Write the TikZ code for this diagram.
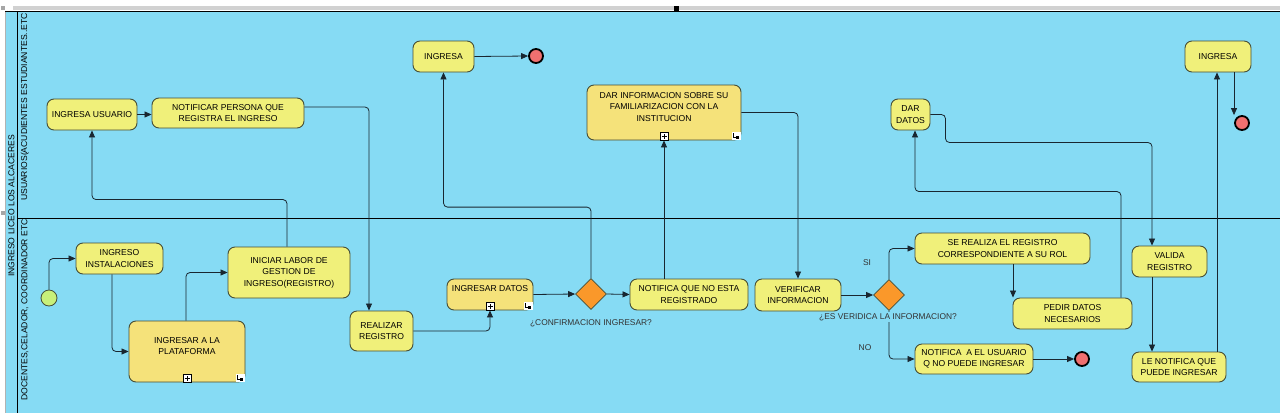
\documentclass[tikz,border=0pt]{standalone}
\usepackage{fontspec}
\setmainfont{Liberation Sans}
\usetikzlibrary{shapes,arrows.meta,positioning,calc}
\definecolor{LaneBlue}{RGB}{134, 219, 244}
\definecolor{TaskYellow}{RGB}{240, 240, 122}
\definecolor{SubYellow}{RGB}{245, 226, 122}
\definecolor{TaskEdge}{RGB}{70, 78, 55}
\definecolor{GateOrange}{RGB}{250, 152, 42}
\definecolor{EndRed}{RGB}{240, 112, 112}
\definecolor{StartGreen}{RGB}{200, 240, 122}
\definecolor{FlowLine}{RGB}{25, 38, 48}

% sub-process marker and corner icon
\newcommand{\submarks}[1]{%
  \draw[fill=white, line width=0.6pt] ([xshift=-4pt]#1.south) rectangle ([xshift=4pt,yshift=8pt]#1.south);
  \draw[line width=0.6pt] ([yshift=1.5pt]#1.south) -- ([yshift=6.5pt]#1.south)
    ([xshift=-2.5pt,yshift=4pt]#1.south) -- ([xshift=2.5pt,yshift=4pt]#1.south);
  \fill[white] ([xshift=-9pt,yshift=0.5pt]#1.south east) rectangle ([xshift=-0.5pt,yshift=8pt]#1.south east);
  \draw[line width=0.5pt] ([xshift=-8pt,yshift=7pt]#1.south east) |- ([xshift=-4pt,yshift=3.5pt]#1.south east);
  \fill ([xshift=-5pt,yshift=1pt]#1.south east) rectangle ([xshift=-2pt,yshift=4pt]#1.south east);
}

\begin{document}
\begin{tikzpicture}[x=1pt, y=-1pt,
  task/.style={draw=TaskEdge, fill=TaskYellow, rounded corners=7pt, line width=0.9pt,
    align=center, inner sep=0pt, font=\fontsize{8.6}{11.5}\selectfont},
  subtask/.style={task, fill=SubYellow},
  gate/.style={diamond, draw=TaskEdge, fill=GateOrange, line width=0.8pt,
    minimum width=31pt, minimum height=31pt, inner sep=0pt},
  endev/.style={circle, draw=black, fill=EndRed, line width=1.8pt, minimum size=14pt, inner sep=0pt},
  startev/.style={circle, draw=TaskEdge, fill=StartGreen, line width=0.8pt, minimum size=16pt, inner sep=0pt},
  flow/.style={draw=FlowLine, line width=0.8pt, rounded corners=4pt, -{Triangle[length=7pt,width=6pt]}},
  gatelabel/.style={font=\fontsize{8.4}{10}\selectfont, text=black!80, inner sep=1pt},
  lanelabel/.style={rotate=90, font=\fontsize{8.6}{10}\selectfont, inner sep=0pt}]
  \useasboundingbox (0,0) rectangle (1280,413);

  % Pool and lanes
  \fill[black!18] (13,6) rectangle (1280,10);
  \fill[black!35] (1,6) rectangle (5,10);
  \fill[black!35] (1,211) rectangle (5,215);
  \fill[LaneBlue] (5,11) rectangle (1280,413);
  \draw[black!30] (5,11) -- (5,413);
  \draw[line width=0.9pt] (5,11) -- (1280,11);
  \fill (674,6) rectangle (679,11);
  \draw[line width=0.9pt] (17,11) -- (17,413);
  \draw[line width=0.9pt] (17,218) -- (1280,218);
  \node[lanelabel] (pool) at (11.5,206) {INGRESO LICEO LOS ALCACERES};
  \node[lanelabel] (lane1) at (25,107) {USUARIOS(ACUDIENTES ESTUDIANTES..ETC};
  \node[lanelabel] (lane2) at (25,310) {DOCENTES,CELADOR, COORDINADOR ETC};

  % Tasks, upper lane
  \node[task, minimum width=90pt, minimum height=31pt] (usu) at (92,114.5) {INGRESA USUARIO};
  \node[task, minimum width=152pt, minimum height=30pt] (notif) at (228,113) {NOTIFICAR PERSONA QUE\\REGISTRA EL INGRESO};
  \node[task, minimum width=61pt, minimum height=31pt] (ing1) at (443.5,56.5) {INGRESA};
  \node[endev] (fin1) at (536,56) {};
  \node[subtask, minimum width=154pt, minimum height=55pt] (dar) at (664,112.5)
    {DAR INFORMACION SOBRE SU\\FAMILIARIZACION CON LA\\INSTITUCION\\\mbox{}};
  \node[task, minimum width=39pt, minimum height=31pt] (dardat) at (910.5,114.5) {DAR\\DATOS};
  \node[task, minimum width=66pt, minimum height=31pt] (ing2) at (1218,56.5) {INGRESA};
  \node[endev] (fin3) at (1242,123) {};

  % Tasks, lower lane
  \node[startev] (st) at (49,298) {};
  \node[task, minimum width=87pt, minimum height=31pt] (inst) at (119.5,258.5) {INGRESO\\INSTALACIONES};
  \node[subtask, minimum width=116pt, minimum height=61pt] (plat) at (187,351.5) {INGRESAR A LA\\PLATAFORMA\\\mbox{}};
  \node[task, minimum width=122pt, minimum height=51pt] (inic) at (289,272.5) {INICIAR LABOR DE\\GESTION DE\\INGRESO(REGISTRO)};
  \node[task, minimum width=63pt, minimum height=40pt] (reg) at (381.5,331) {REALIZAR\\REGISTRO};
  \node[subtask, minimum width=86pt, minimum height=31pt] (datos) at (490,294.5) {INGRESAR DATOS\\\mbox{}};
  \node[gate] (g1) at (591,294) {};
  \node[gatelabel] (q1) at (591,323) {¿CONFIRMACION INGRESAR?};
  \node[task, minimum width=118pt, minimum height=31pt] (noreg) at (689,294.5) {NOTIFICA QUE NO ESTA\\REGISTRADO};
  \node[task, minimum width=86pt, minimum height=32pt] (verif) at (798,295) {VERIFICAR\\INFORMACION};
  \node[gate] (g2) at (889,295) {};
  \node[task, minimum width=175pt, minimum height=31pt] (serol) at (1002.5,248.5) {SE REALIZA EL REGISTRO\\CORRESPONDIENTE A SU ROL};
  \node[task, minimum width=119pt, minimum height=31pt] (pedir) at (1072.5,313.5) {PEDIR DATOS\\NECESARIOS};
  \node[task, minimum width=118pt, minimum height=30pt] (nopuede) at (974,359) {NOTIFICA\ \ A EL USUARIO\\Q NO PUEDE INGRESAR};
  \node[endev] (fin2) at (1082,359) {};
  \node[task, minimum width=75pt, minimum height=31pt] (valida) at (1169.5,261.5) {VALIDA\\REGISTRO};
  \node[task, minimum width=94pt, minimum height=30pt] (puede) at (1179,367) {LE NOTIFICA QUE\\PUEDE INGRESAR};

  % Sequence flows
  \draw[flow] (usu.east) -- (usu.east -| notif.west);
  \draw[flow] ([yshift=6pt]notif.east) -| ([xshift=-12.5pt]reg.north);
  \draw[flow] ([xshift=-2pt]inic.north) -- ++(0,-47) -| (usu.south);
  \draw[flow] (st.north) |- (inst.west);
  \draw[flow] ([xshift=-7.5pt]inst.south) |- (plat.west);
  \draw[flow] ([xshift=-1pt]plat.north) |- (inic.west);
  \draw[flow] (reg.east) -| (datos.south);
  \draw[flow] (datos.east) -- (g1.west);
  \draw[flow] (g1.north) -- ++(0,-71) -| (ing1.south);
  \draw[flow] (ing1.east) -- (fin1.west);
  \draw[flow] (g1.east) -- (noreg.west);
  \draw[flow] (noreg.north -| dar.south) -- (dar.south);
  \draw[flow] (dar.east) -| (verif.north);
  \draw[flow] (verif.east) -- (g2.west);
  \draw[flow] (g2.north) |- (serol.west);
  \draw[flow] (g2.south) |- (nopuede.west);
  \draw[flow] (nopuede.east) -- (fin2.west);
  \draw[flow] ([xshift=10.5pt]serol.south) -- ([xshift=10.5pt]serol.south |- pedir.north);
  \draw[flow] ([xshift=48.5pt]pedir.north) -- ++(0,-106) -| ([xshift=4.5pt]dardat.south);
  \draw[flow] (dardat.east) -- ++(15,0) -- ++(0,28) -| ([xshift=-17.5pt]valida.north);
  \draw[flow] ([xshift=-17.5pt]valida.south) -- ([xshift=-17.5pt]valida.south |- puede.north);
  \draw[flow] ([xshift=38pt]puede.north) -- ([xshift=38pt]puede.north |- ing2.south);
  \draw[flow] ([xshift=16pt]ing2.south) -- ([xshift=16pt]ing2.south |- fin3.north);

  % Gateway labels
  \node[gatelabel, fill=LaneBlue] (q2) at (888,317) {¿ES VERIDICA LA INFORMACION?};
  \node[gatelabel] (si) at (867,263) {SI};
  \node[gatelabel] (no) at (865,348) {NO};

  % Sub-process markers
  \submarks{plat}
  \submarks{datos}
  \submarks{dar}
\end{tikzpicture}
\end{document}
